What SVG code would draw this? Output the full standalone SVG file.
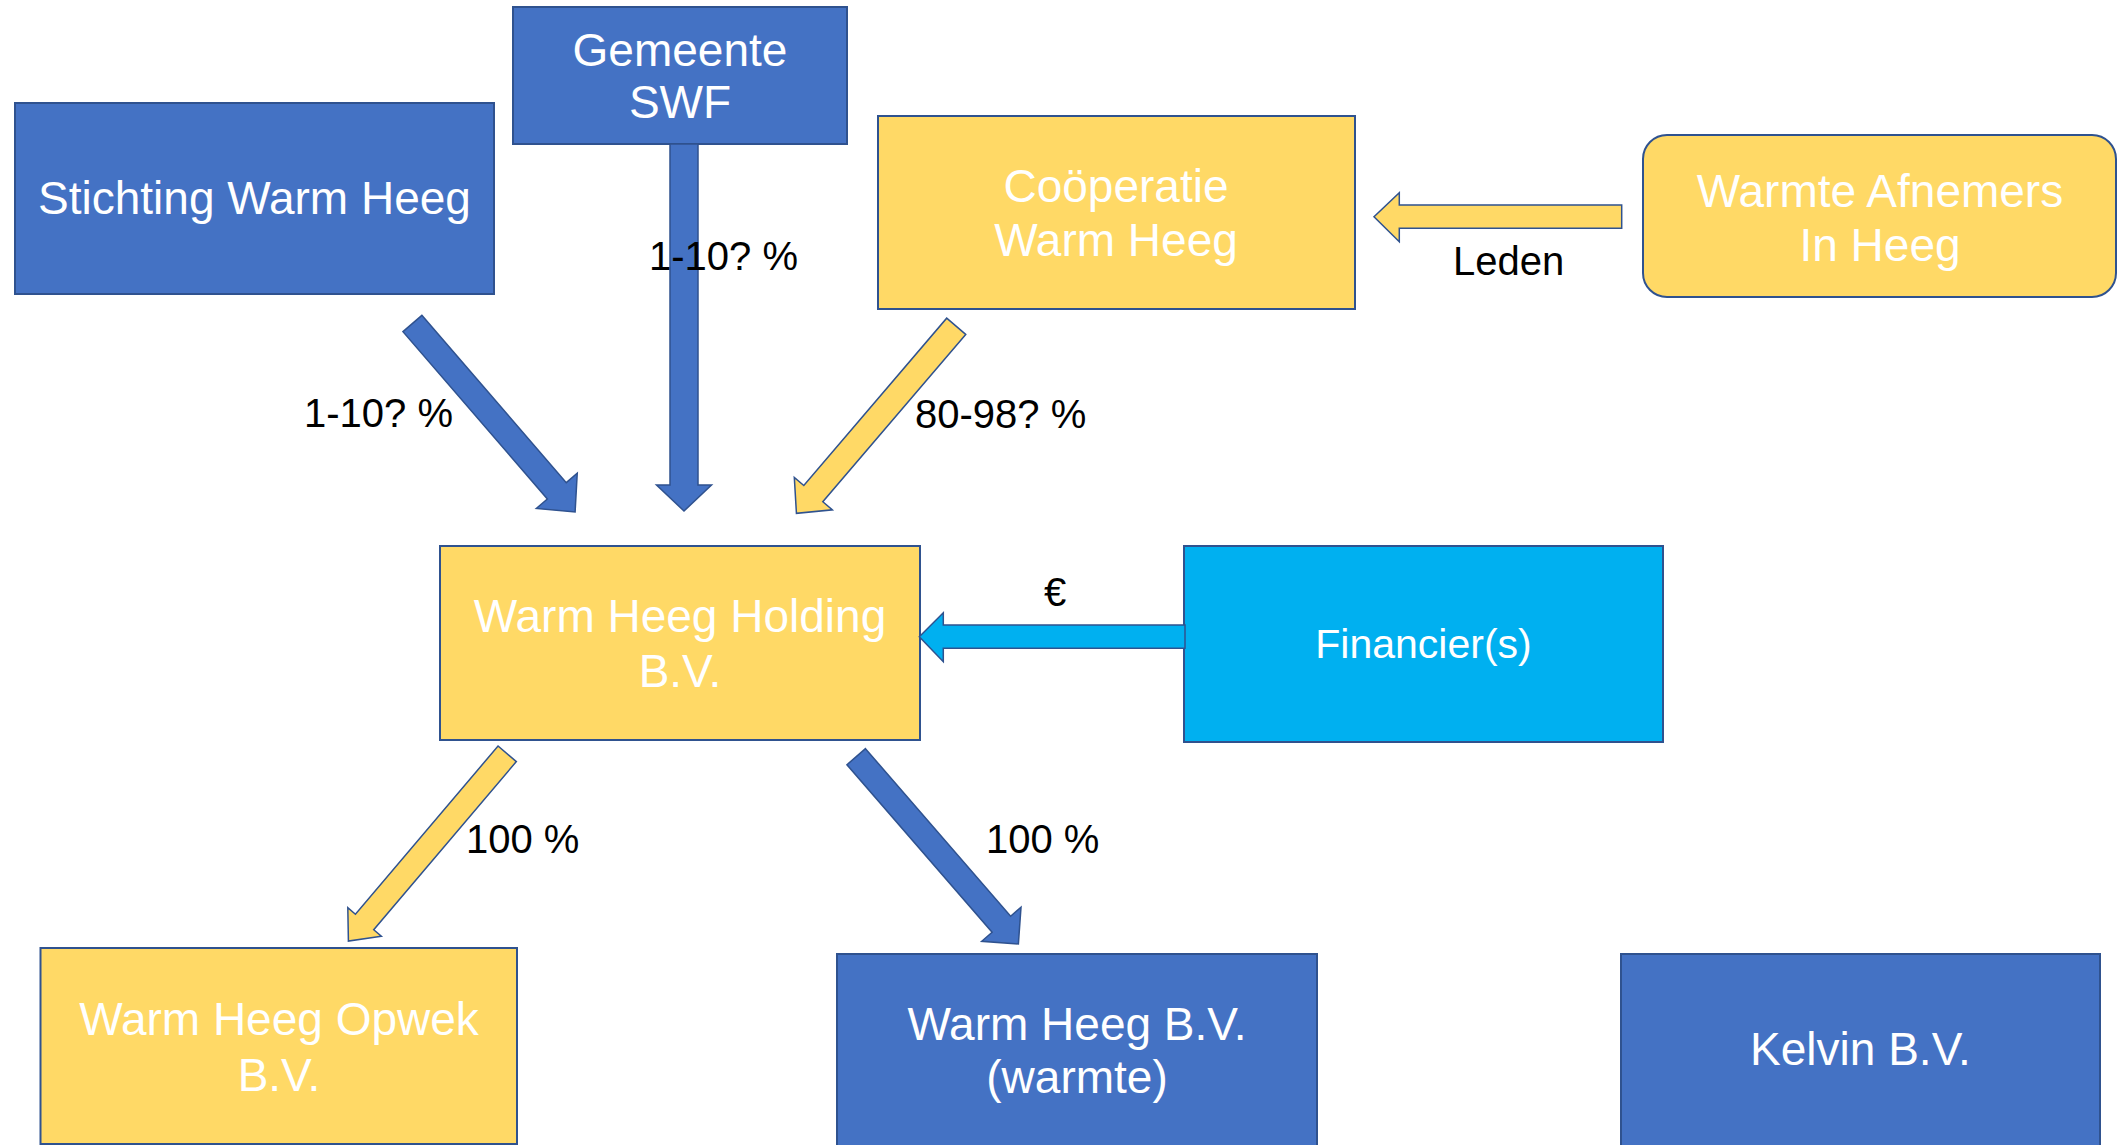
<svg xmlns="http://www.w3.org/2000/svg" width="2118" height="1145" viewBox="0 0 2118 1145">
<style>
.blue{fill:#4472C4;stroke:#2F528F;stroke-width:2}
.yellow{fill:#FFD966;stroke:#2F528F;stroke-width:2}
.cyan{fill:#00B0F0;stroke:#2F528F;stroke-width:2}
.t{font-family:"Liberation Sans",Arial,sans-serif;font-size:46px;fill:#FFFFFF;text-anchor:middle}
.tf{font-family:"Liberation Sans",Arial,sans-serif;font-size:41px;fill:#FFFFFF;text-anchor:middle}
.lbl{font-family:"Liberation Sans",Arial,sans-serif;font-size:40px;fill:#000000}
.ab{fill:#4472C4;stroke:#2F528F;stroke-width:1.5}
.ay{fill:#FFD966;stroke:#2F528F;stroke-width:1.5}
.ac{fill:#00B0F0;stroke:#2F528F;stroke-width:1.5}
</style>
<rect width="2118" height="1145" fill="#FFFFFF"/>
<g id="stichting">
<rect class="blue" x="15" y="103" width="479" height="191"/>
<text class="t" x="254.5" y="214">Stichting Warm Heeg</text>
</g>
<g id="gemeente">
<rect class="blue" x="513" y="7" width="334" height="137"/>
<text class="t" x="680" y="66">Gemeente</text>
<text class="t" x="680" y="118">SWF</text>
</g>
<g id="cooperatie">
<rect class="yellow" x="878" y="116" width="477" height="193"/>
<text class="t" x="1116" y="202">Coöperatie</text>
<text class="t" x="1116" y="256">Warm Heeg</text>
</g>
<g id="afnemers">
<rect class="yellow" x="1643" y="135" width="473" height="162" rx="24" ry="24"/>
<text class="t" x="1880" y="207">Warmte Afnemers</text>
<text class="t" x="1880" y="261">In Heeg</text>
</g>
<g id="holding">
<rect class="yellow" x="440" y="546" width="480" height="194"/>
<text class="t" x="680" y="632">Warm Heeg Holding</text>
<text class="t" x="680" y="687">B.V.</text>
</g>
<g id="financiers">
<rect class="cyan" x="1184" y="546" width="479" height="196"/>
<text class="tf" x="1423.5" y="658">Financier(s)</text>
</g>
<g id="opwek">
<rect class="yellow" x="40.5" y="948" width="476.5" height="196"/>
<text class="t" x="279" y="1035">Warm Heeg Opwek</text>
<text class="t" x="279" y="1091">B.V.</text>
</g>
<g id="warmheegbv">
<rect class="blue" x="837" y="954" width="480" height="192"/>
<text class="t" x="1077" y="1040">Warm Heeg B.V.</text>
<text class="t" x="1077" y="1093">(warmte)</text>
</g>
<g id="kelvin">
<rect class="blue" x="1621" y="954" width="479" height="192"/>
<text class="t" x="1860.5" y="1065">Kelvin B.V.</text>
</g>
<g id="connectors">
<polygon class="ab" transform="translate(412.4,323.5) rotate(49.2)" points="0,-12.5 221,-12.5 221,-27 249,0 221,27 221,12.5 0,12.5"/>
<polygon class="ab" points="670,144 698,144 698,485 711.5,485 684,511 656.5,485 670,485"/>
<polygon class="ay" transform="translate(956.2,326.3) rotate(130.5)" points="0,-12.5 220,-12.5 220,-25 246,0 220,25 220,12.5 0,12.5"/>
<polygon class="ay" points="1621.7,205 1399.3,205 1399.3,192.7 1374,216.7 1399.3,241.7 1399.3,228.3 1621.7,228.3"/>
<polygon class="ac" points="1185,625 943.3,625 943.3,612.7 919.3,636.7 943.3,661.7 943.3,648.3 1185,648.3"/>
<polygon class="ay" transform="translate(507.2,753.8) rotate(130.3)" points="0,-12 220.5,-12 220.5,-22 245.5,0 220.5,22 220.5,12 0,12"/>
<polygon class="ab" transform="translate(856.2,756.7) rotate(49.1)" points="0,-12.25 221.7,-12.25 221.7,-26 247.7,0 221.7,26 221.7,12.25 0,12.25"/>
<text class="lbl" x="304" y="427">1-10? %</text>
<text class="lbl" x="649" y="270">1-10? %</text>
<text class="lbl" x="915" y="428">80-98? %</text>
<text class="lbl" x="1453" y="275">Leden</text>
<text class="lbl" x="1044" y="606">€</text>
<text class="lbl" x="466" y="853">100 %</text>
<text class="lbl" x="986" y="853">100 %</text>
</g>
</svg>
